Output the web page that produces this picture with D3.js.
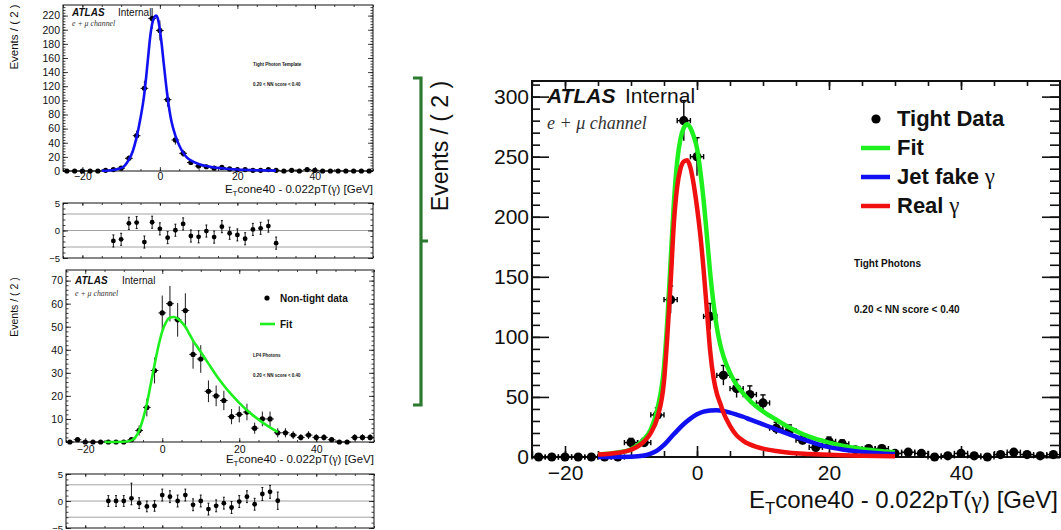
<!DOCTYPE html>
<html>
<head>
<meta charset="utf-8">
<script src="https://cdn.jsdelivr.net/npm/d3@7"></script>
<style>
  body { margin: 0; background: #fff; }
  svg { display: block; font-family: "Liberation Sans", Arial, sans-serif; }
</style>
</head>
<body>
<svg id="fig" width="1061" height="530"></svg>
<script>
// ---- data ----
var binCenters = [-24,-22,-20,-18,-16,-14,-12,-10,-8,-6,-4,-2,0,2,4,6,8,10,12,14,16,18,20,22,24,26,28,30,32,34,36,38,40,42,44,46,48,50,52,54];

// top left: tight photon template
var templateCounts = [0,0,0,0,0,1,2,4,18,50,117,216,199,101,44,25,12,7,6,4,5,3,2,2,1,1,2,1,0,1,0,2,1,0,0,0,0,0,0,0];
var templateErrors = [0,0,0,0,0,1,1.4,2,4.2,7.1,10.8,14.7,14.1,10,6.6,5,3.5,2.6,2.4,2,2.2,1.7,1.4,1.4,1,1,1.4,1,0,1,0,1.4,1,0,0,0,0,0,0,0];
var templateFit = [[-15,0.3],[-12,1.5],[-10,4],[-9,8],[-8,16],[-7,28],[-6,48],[-5,75],[-4,110],[-3.5,135],[-3,163],[-2.5,190],[-2,208],[-1.5,217],[-1,220],[-0.5,215],[0,200],[0.5,178],[1,152],[1.5,127],[2,104],[2.5,85],[3,70],[4,50],[5,36],[6,26],[7,19],[8,15],[10,10],[12,7],[14,5],[16,3.8],[18,2.8],[20,2.1],[25,1.1],[30,0.6]];
var templatePullBins = [-12,-10,-8,-6,-4,-2,0,2,4,6,8,10,12,14,16,18,20,22,24,26,28,30];
var templatePulls = [-1.9,-1.6,1.3,1.45,-2.1,1.5,0.3,-1.3,0.05,1.2,-1.0,-1.15,-0.1,-1.2,0.7,-0.5,-0.8,-1.5,0.2,0.4,0.8,-2.3];

// bottom left: non-tight data
var nonTightCounts = [0,1,0,0,0,0,0,0,1,5,15,31,56,60,53,57,38,36,22,20,18,11,12,13,6,10,10,4,4,3,2,3,2,2,1,0,0,2,2,2];
var nonTightErrors = [0,1,0,0,0,0,0,0,1,2.2,3.9,5.6,7.5,7.7,7.3,7.5,6.2,6,4.7,4.5,4.2,3.3,3.5,3.6,2.4,3.2,3.2,2,2,1.7,1.4,1.7,1.4,1.4,1,0,0,1.4,1.4,1.4];
var nonTightFit = [[-15,0],[-10,0.1],[-8,0.7],[-7,2],[-6,5],[-5,10],[-4,16.5],[-3,25],[-2,33.5],[-1,41.5],[0,48],[1,52],[2,54],[3,54.2],[4,53.5],[5,52],[6,50],[7,47],[8,44],[9,41.5],[10,39],[12,34],[14,29],[16,24.5],[18,20.5],[20,17],[22,13.8],[24,11],[26,8.5],[28,6.3],[30,4.3]];
var nonTightPullBins = [-14,-12,-10,-8,-6,-4,-2,0,2,4,6,8,10,12,14,16,18,20,22,24,26,28,30];
var nonTightPulls = [0,0,0,0.5,-0.4,-1.0,-0.9,1.1,0.8,0,1.1,-0.7,0,-1.5,-0.9,-0.4,-1.2,-0.1,0.8,-0.6,1.3,1.7,0.05];
var nonTightPullErrUp = [1,1,1,2.8,1,1,1,1.1,1.1,1.1,1.1,1.1,1.1,1.1,1.1,1.1,1.1,1.1,1.1,1.1,1.2,1.2,1.6];
var nonTightPullErrDown = [1,1,1,1.2,1,1,1,1.1,1.1,1.1,1.1,1.1,1.1,1.1,1.1,1.1,1.1,1.1,1.1,1.1,1.2,1.2,1.6];

// right: tight data with fit
var tightCounts = [0,0,0,0,0,0,0,12,12,35,131,280,250,117,68,57,52,45,24,22,14,8,13,11,6,7,7,3,4,3,0,1,3,1,0,2,4,2,1,2];
var tightErrors = [0,0,0,0,0,0,0,3.5,3.5,5.9,11.4,16.7,15.8,10.8,8.2,7.5,7.2,6.7,4.9,4.7,3.7,2.8,3.6,3.3,2.4,2.6,2.6,1.7,2,1.7,0,1,1.7,1,0,1.4,2,1.4,1,1.4];
var fitCurve = [[-15,2],[-12,3.7],[-10,6.5],[-8,15],[-7,23],[-6,40],[-5,75],[-4.5,113],[-4,163],[-3.5,212],[-3,246],[-2.5,265],[-2,274],[-1.5,277],[-1,274],[-0.5,267],[0,257],[0.5,238],[1,214],[1.5,184],[2,153],[2.5,128],[3,108],[3.5,94],[4,84],[5,70],[6,60],[7,53],[8,47],[9,42],[10,38],[12,31],[14,24.5],[16,19],[18,15],[20,12],[22,9.5],[24,7.5],[26,6],[28,4.7],[30,4]];
var jetFakeCurve = [[-15,0],[-10,0.3],[-8,1.3],[-7,2.8],[-6,5.5],[-5,10],[-4,16],[-3,22],[-2,27.5],[-1,32],[0,35.5],[1,37.8],[2,38.8],[3,39],[4,38.3],[5,37],[6,35.3],[7,33.5],[8,31.3],[9,29.2],[10,27.2],[12,23],[14,18.8],[16,14.8],[18,11.2],[20,8.2],[22,6.3],[24,4.9],[26,3.8],[28,3],[30,2.5]];
var realGammaCurve = [[-15,2],[-12,3.5],[-10,6],[-8,13],[-7,20],[-6,33],[-5,63],[-4.5,100],[-4,145],[-3.5,195],[-3,225],[-2.5,240],[-2,246],[-1.5,247],[-1,241],[-0.5,227],[0,208],[0.5,185],[1,156],[1.5,122],[2,88],[2.5,66],[3,53],[3.5,45],[4,37],[5,26],[6,18],[7,13.5],[8,10.5],[9,8.5],[10,7],[12,5],[14,3.5],[17,2.5],[20,1.8],[25,1.1],[30,0.7]];

var xTickLabels = [-20, 0, 20, 40];
var legendLabels = ["Tight Data", "Fit", "Jet fake", "Real"];

var GREEN = "#1ef01e", BLUE = "#1010f0", RED = "#f01010";
var svg = d3.select("#fig");

// frame with ROOT style inward ticks on all four sides
function frame(g, x, y, o) {
    var xr = x.range(), yr = y.range();
    function strip(a) { a.select(".domain").remove(); a.selectAll("line").attr("stroke", "#111"); return a; }
    strip(g.append("g").attr("transform", "translate(0," + yr[0] + ")")
        .call(d3.axisBottom(x).tickValues(o.xMajor).tickSize(-o.xMaj).tickPadding(o.xPad)
            .tickFormat(o.xLabels ? d3.format("d") : "")))
        .selectAll("text").attr("font-size", o.font).attr("fill", "#111");
    strip(g.append("g").attr("transform", "translate(0," + yr[0] + ")")
        .call(d3.axisBottom(x).tickValues(o.xMinor).tickSize(-o.xMin).tickFormat("")));
    strip(g.append("g").attr("transform", "translate(0," + yr[1] + ")")
        .call(d3.axisTop(x).tickValues(o.xMajor).tickSize(-o.xMajTop).tickFormat("")));
    strip(g.append("g").attr("transform", "translate(0," + yr[1] + ")")
        .call(d3.axisTop(x).tickValues(o.xMinor).tickSize(-o.xMinTop).tickFormat("")));
    strip(g.append("g").attr("transform", "translate(" + xr[0] + ",0)")
        .call(d3.axisLeft(y).tickValues(o.yMajor).tickSize(-o.yMaj).tickPadding(o.yPad).tickFormat(d3.format("d"))))
        .selectAll("text").attr("font-size", o.font).attr("fill", "#111");
    strip(g.append("g").attr("transform", "translate(" + xr[0] + ",0)")
        .call(d3.axisLeft(y).tickValues(o.yMinor).tickSize(-o.yMin).tickFormat("")));
    strip(g.append("g").attr("transform", "translate(" + xr[1] + ",0)")
        .call(d3.axisRight(y).tickValues(o.yMajor).tickSize(-o.yMajR).tickFormat("")));
    strip(g.append("g").attr("transform", "translate(" + xr[1] + ",0)")
        .call(d3.axisRight(y).tickValues(o.yMinor).tickSize(-o.yMinR).tickFormat("")));
    g.selectAll(".tick line").attr("stroke-width", o.tickW);
    g.append("rect").attr("x", xr[0]).attr("y", yr[1])
        .attr("width", xr[1] - xr[0]).attr("height", yr[0] - yr[1])
        .attr("fill", "none").attr("stroke", "#111").attr("stroke-width", o.frameW);
}

function points(g, x, y, bins, counts, errs, o) {
    var pts = bins.map(function (b, i) { return { b: b, v: counts[i], e: errs[i] }; });
    var p = g.append("g").selectAll("g").data(pts).join("g")
        .attr("stroke", "#000").attr("stroke-width", o.lw);
    p.append("line").attr("x1", function (d) { return x(d.b - 1); }).attr("x2", function (d) { return x(d.b + 1); })
        .attr("y1", function (d) { return y(d.v); }).attr("y2", function (d) { return y(d.v); });
    if (o.cap) {
        p.append("line").attr("x1", function (d) { return x(d.b - 1); }).attr("x2", function (d) { return x(d.b - 1); })
            .attr("y1", function (d) { return y(d.v) - o.cap; }).attr("y2", function (d) { return y(d.v) + o.cap; });
        p.append("line").attr("x1", function (d) { return x(d.b + 1); }).attr("x2", function (d) { return x(d.b + 1); })
            .attr("y1", function (d) { return y(d.v) - o.cap; }).attr("y2", function (d) { return y(d.v) + o.cap; });
    }
    var ev = p.filter(function (d) { return d.e > 0; });
    ev.append("line").attr("x1", function (d) { return x(d.b); }).attr("x2", function (d) { return x(d.b); })
        .attr("y1", function (d) { return y(d.v + d.e); }).attr("y2", function (d) { return y(Math.max(0, d.v - d.e)); });
    if (o.cap) {
        ev.append("line").attr("x1", function (d) { return x(d.b) - o.cap; }).attr("x2", function (d) { return x(d.b) + o.cap; })
            .attr("y1", function (d) { return y(d.v + d.e); }).attr("y2", function (d) { return y(d.v + d.e); });
    }
    p.append("circle").attr("cx", function (d) { return x(d.b); }).attr("cy", function (d) { return y(d.v); })
        .attr("r", o.r).attr("fill", "#000").attr("stroke", "none");
}

function pulls(g, x, y, bins, vals, up, down) {
    [3, 0, -3].forEach(function (v) {
        g.append("line").attr("x1", x.range()[0]).attr("x2", x.range()[1])
            .attr("y1", y(v)).attr("y2", y(v)).attr("stroke", "#8a8a8a").attr("stroke-width", 0.8);
    });
    var p = g.append("g").selectAll("g").data(bins.map(function (b, i) {
        return { b: b, v: vals[i], u: up[i], d: down[i] };
    })).join("g").attr("stroke", "#000").attr("stroke-width", 0.9);
    p.append("line").attr("x1", function (d) { return x(d.b); }).attr("x2", function (d) { return x(d.b); })
        .attr("y1", function (d) { return y(d.v + d.u); }).attr("y2", function (d) { return y(d.v - d.d); });
    p.append("line").attr("x1", function (d) { return x(d.b) - 1; }).attr("x2", function (d) { return x(d.b) + 1; })
        .attr("y1", function (d) { return y(d.v + d.u); }).attr("y2", function (d) { return y(d.v + d.u); });
    p.append("line").attr("x1", function (d) { return x(d.b) - 1; }).attr("x2", function (d) { return x(d.b) + 1; })
        .attr("y1", function (d) { return y(d.v - d.d); }).attr("y2", function (d) { return y(d.v - d.d); });
    p.append("circle").attr("cx", function (d) { return x(d.b); }).attr("cy", function (d) { return y(d.v); })
        .attr("r", 2.4).attr("fill", "#000").attr("stroke", "none");
}

function curve(g, x, y, pts, color, w) {
    g.append("path").datum(pts)
        .attr("d", d3.line().x(function (d) { return x(d[0]); }).y(function (d) { return y(d[1]); }).curve(d3.curveMonotoneX))
        .attr("fill", "none").attr("stroke", color).attr("stroke-width", w).attr("stroke-linejoin", "round");
}

function xTitle(g, xEnd, yBase, size) {
    var t = g.append("text").attr("x", xEnd).attr("y", yBase).attr("text-anchor", "end")
        .attr("font-size", size).attr("fill", "#111");
    t.append("tspan").text("E");
    t.append("tspan").attr("font-size", size * 0.7).attr("dy", size * 0.25).text("T");
    t.append("tspan").attr("dy", -size * 0.25).text("cone40 - 0.022pT(");
    t.append("tspan").attr("font-family", "Liberation Serif, serif").text("γ");
    t.append("tspan").text(") [GeV]");
}

function yTitle(g, xBase, yMid, size) {
    g.append("text").attr("transform", "translate(" + xBase + "," + yMid + ") rotate(-90)")
        .attr("text-anchor", "middle").attr("font-size", size).attr("fill", "#111")
        .text("Events / ( 2 )");
}

function atlas(g, x0, yBase, size, x1, chanY, chanSize) {
    g.append("text").attr("x", x0).attr("y", yBase).attr("font-size", size)
        .attr("font-weight", "bold").attr("font-style", "italic").attr("fill", "#111").text("ATLAS");
    g.append("text").attr("x", x1).attr("y", yBase).attr("font-size", size).attr("fill", "#111").text("Internal");
    g.append("text").attr("x", x0).attr("y", chanY).attr("font-size", chanSize)
        .attr("font-family", "Liberation Serif, serif").attr("font-style", "italic").attr("fill", "#333")
        .text("e + μ channel");
}

function smallText(g, x0, yBase, size, str) {
    g.append("text").attr("x", x0).attr("y", yBase).attr("font-size", size)
        .attr("font-weight", "bold").attr("fill", "#111").text(str);
}

var leftFrame = {
    xMajor: xTickLabels, xMinor: d3.range(-25, 56, 5), xMaj: 4, xMin: 2, xMajTop: 4, xMinTop: 2,
    yMaj: 5, yMin: 2.5, yMajR: 5, yMinR: 2.5, font: 10.5, tickW: 0.8, frameW: 1
};

// ---- top left: template ----
var gTL = svg.append("g");
var xTL = d3.scaleLinear().domain([-25, 55]).range([63, 373]);
var yTL = d3.scaleLinear().domain([0, 235]).range([171, 5]);
frame(gTL, xTL, yTL, Object.assign({}, leftFrame, {
    xLabels: true, xPad: 2, yPad: 3, yMajor: d3.range(0, 221, 20), yMinor: d3.range(0, 235, 4)
}));
points(gTL, xTL, yTL, binCenters, templateCounts, templateErrors, { r: 2.6, lw: 0.9, cap: 0 });
curve(gTL, xTL, yTL, templateFit, BLUE, 2.6);
xTitle(gTL, 373, 193, 11.5);
yTitle(gTL, 18, 37, 11.5);
atlas(gTL, 72, 16, 10, 118, 26, 7.8);
smallText(gTL, 253, 66, 4.5, "Tight Photon Template");
smallText(gTL, 253, 86, 4.5, "0.20 < NN score < 0.40");

var gTR = svg.append("g");
var yTR = d3.scaleLinear().domain([-5, 5]).range([258, 203]);
pulls(gTR, xTL, yTR, templatePullBins, templatePulls,
    templatePulls.map(function () { return 1.1; }), templatePulls.map(function () { return 1.1; }));
frame(gTR, xTL, yTR, Object.assign({}, leftFrame, {
    xLabels: false, xPad: 2, yPad: 3, yMajor: [-5, 0, 5], yMinor: d3.range(-5, 6, 1), xMaj: 3, xMajTop: 3, font: 9.5
}));

// ---- bottom left: non-tight ----
var gBL = svg.append("g");
var xBL = d3.scaleLinear().domain([-25, 55]).range([66, 374]);
var yBL = d3.scaleLinear().domain([0, 74.6]).range([442, 270]);
frame(gBL, xBL, yBL, Object.assign({}, leftFrame, {
    xLabels: true, xPad: 3.5, yPad: 3, yMajor: d3.range(0, 71, 10), yMinor: d3.range(0, 75, 2)
}));
points(gBL, xBL, yBL, binCenters, nonTightCounts, nonTightErrors, { r: 2.6, lw: 0.9, cap: 0 });
curve(gBL, xBL, yBL, nonTightFit, GREEN, 2.6);
xTitle(gBL, 374, 463, 11.5);
yTitle(gBL, 18, 307, 10.5);
atlas(gBL, 75, 284, 10, 122, 296, 7.8);
gBL.append("circle").attr("cx", 267).attr("cy", 298).attr("r", 2.6).attr("fill", "#000");
smallText(gBL, 280, 302, 10, "Non-tight data");
gBL.append("line").attr("x1", 260).attr("x2", 275).attr("y1", 324).attr("y2", 324)
    .attr("stroke", GREEN).attr("stroke-width", 2.6);
smallText(gBL, 280, 328, 10, "Fit");
smallText(gBL, 253, 357, 4.5, "LP4 Photons");
smallText(gBL, 253, 377, 4.5, "0.20 < NN score < 0.40");

var gBR = svg.append("g");
var yBR = d3.scaleLinear().domain([-5, 5]).range([528, 474]);
pulls(gBR, xBL, yBR, nonTightPullBins, nonTightPulls, nonTightPullErrUp, nonTightPullErrDown);
frame(gBR, xBL, yBR, Object.assign({}, leftFrame, {
    xLabels: false, xPad: 2, yPad: 3, yMajor: [-5, 0, 5], yMinor: d3.range(-5, 6, 1), xMaj: 3, xMajTop: 3, font: 9.5
}));

// ---- bracket ----
svg.append("path").attr("d", "M413,78 L421,78 L421,405 L413,405 M421,241 L428,241")
    .attr("fill", "none").attr("stroke", "#2b7a30").attr("stroke-width", 3.2);

// ---- right: tight data fit ----
var gR = svg.append("g");
var xR = d3.scaleLinear().domain([-25, 55]).range([532, 1060]);
var yR = d3.scaleLinear().domain([0, 313]).range([457, 81]);
frame(gR, xR, yR, {
    xMajor: xTickLabels, xMinor: d3.range(-25, 56, 5), xMaj: 11, xMin: 6, xMajTop: 9, xMinTop: 5,
    yMajor: d3.range(0, 301, 50), yMinor: d3.range(0, 313, 10), yMaj: 17, yMin: 8, yMajR: 18, yMinR: 10,
    font: 21, xLabels: true, xPad: 8, yPad: 3, tickW: 1.6, frameW: 2
});
points(gR, xR, yR, binCenters, tightCounts, tightErrors, { r: 4.6, lw: 1.4, cap: 2.6 });
curve(gR, xR, yR, fitCurve, GREEN, 4.5);
curve(gR, xR, yR, jetFakeCurve, BLUE, 4.5);
curve(gR, xR, yR, realGammaCurve, RED, 4.5);
xTitle(gR, 1058, 508, 24);
yTitle(gR, 448, 146, 23);
atlas(gR, 547, 103, 21, 625, 129, 18);

// legend
var legColors = [null, GREEN, BLUE, RED];
legendLabels.forEach(function (lab, i) {
    var yy = 119 + i * 29;
    if (i === 0) {
        gR.append("circle").attr("cx", 876).attr("cy", yy).attr("r", 4.6).attr("fill", "#000");
    } else {
        gR.append("line").attr("x1", 861).attr("x2", 890).attr("y1", yy).attr("y2", yy)
            .attr("stroke", legColors[i]).attr("stroke-width", 4.5);
    }
    var t = gR.append("text").attr("x", 897).attr("y", yy + 7).attr("font-size", 22)
        .attr("font-weight", "bold").attr("fill", "#111").text(lab);
    if (i >= 2) {
        t.append("tspan").attr("font-family", "Liberation Serif, serif").attr("font-weight", "normal")
            .attr("font-size", 23).text(" γ");
    }
});
smallText(gR, 854, 267, 10, "Tight Photons");
smallText(gR, 854, 313, 10, "0.20 < NN score < 0.40");
</script>
</body>
</html>
